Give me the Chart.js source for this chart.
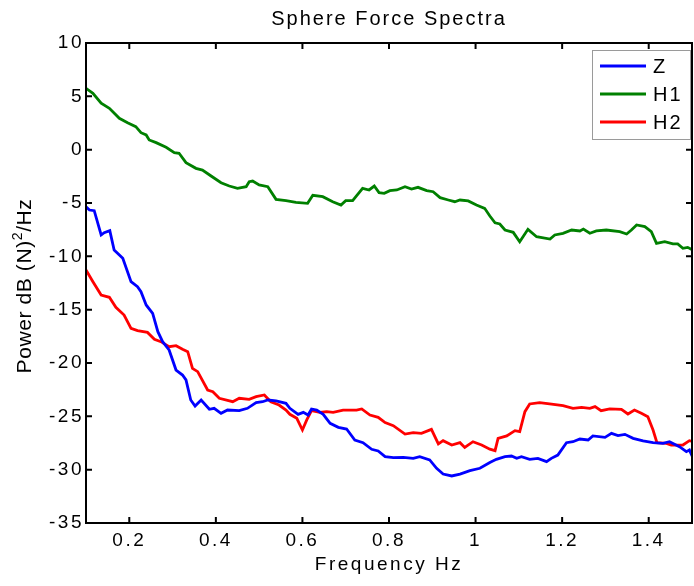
<!DOCTYPE html>
<html>
<head>
<meta charset="utf-8">
<title>Sphere Force Spectra</title>
<script src="https://cdn.jsdelivr.net/npm/chart.js@4.4.0/dist/chart.umd.min.js"></script>
<style>
  html, body { margin: 0; padding: 0; background: #fff; }
  #wrap { width: 694px; height: 586px; }
</style>
</head>
<body>
<div id="wrap"><canvas id="spectra"></canvas></div>
<script>
// spectra in dB, one frequency list per series
const zFreq = [0.100, 0.108, 0.119, 0.135, 0.142, 0.155, 0.165, 0.185, 0.204, 0.219,
  0.227, 0.239, 0.254, 0.266, 0.277, 0.292, 0.308, 0.323, 0.331, 0.342,
  0.352, 0.366, 0.385, 0.396, 0.412, 0.427, 0.454, 0.473, 0.493, 0.508,
  0.520, 0.539, 0.562, 0.571, 0.590, 0.602, 0.613, 0.621, 0.633, 0.648,
  0.664, 0.683, 0.702, 0.721, 0.740, 0.760, 0.775, 0.791, 0.810, 0.833,
  0.856, 0.871, 0.894, 0.910, 0.925, 0.945, 0.964, 0.987, 1.010, 1.033,
  1.048, 1.068, 1.083, 1.095, 1.106, 1.125, 1.144, 1.164, 1.175, 1.190,
  1.210, 1.225, 1.241, 1.260, 1.271, 1.299, 1.314, 1.329, 1.345, 1.364,
  1.387, 1.410, 1.433, 1.448, 1.471, 1.487, 1.494, 1.503];
const zPower = [-5.35, -5.66, -5.72, -8.00, -7.78, -7.59, -9.41, -10.19, -12.38, -12.85,
  -13.31, -14.56, -15.34, -17.06, -18.00, -18.78, -20.66, -21.13, -21.59, -23.47,
  -24.03, -23.47, -24.34, -24.25, -24.72, -24.41, -24.47, -24.25, -23.72, -23.63,
  -23.47, -23.56, -23.78, -24.25, -24.81, -24.63, -24.88, -24.31, -24.41, -24.81,
  -25.66, -26.03, -26.19, -27.22, -27.47, -28.09, -28.25, -28.78, -28.88, -28.84,
  -28.94, -28.78, -29.09, -29.87, -30.41, -30.59, -30.41, -30.09, -29.87, -29.33,
  -29.03, -28.78, -28.72, -28.94, -28.78, -29.03, -28.94, -29.25, -28.94, -28.63,
  -27.47, -27.38, -27.13, -27.22, -26.84, -26.97, -26.60, -26.81, -26.69, -27.06,
  -27.31, -27.47, -27.53, -27.38, -27.84, -28.31, -28.16, -28.94];

const h1Freq = [0.100, 0.116, 0.135, 0.154, 0.177, 0.196, 0.215, 0.227, 0.239, 0.246,
  0.262, 0.285, 0.304, 0.315, 0.331, 0.354, 0.369, 0.389, 0.412, 0.431,
  0.450, 0.470, 0.477, 0.485, 0.500, 0.520, 0.539, 0.562, 0.585, 0.612,
  0.624, 0.647, 0.670, 0.689, 0.700, 0.716, 0.739, 0.754, 0.766, 0.777,
  0.789, 0.802, 0.818, 0.837, 0.852, 0.867, 0.887, 0.902, 0.918, 0.937,
  0.952, 0.964, 0.983, 1.002, 1.021, 1.033, 1.045, 1.056, 1.068, 1.087,
  1.102, 1.121, 1.141, 1.172, 1.183, 1.202, 1.222, 1.241, 1.249, 1.264,
  1.279, 1.302, 1.333, 1.349, 1.360, 1.372, 1.391, 1.406, 1.418, 1.437,
  1.456, 1.467, 1.479, 1.490, 1.502];
const h1Power = [5.75, 5.28, 4.35, 3.88, 2.94, 2.53, 2.16, 1.59, 1.38, 0.91,
  0.66, 0.22, -0.28, -0.34, -1.22, -1.75, -1.91, -2.47, -3.10, -3.41,
  -3.62, -3.47, -3.00, -2.94, -3.31, -3.47, -4.66, -4.78, -4.94, -5.03,
  -4.28, -4.41, -4.88, -5.19, -4.78, -4.78, -3.62, -3.78, -3.41, -4.03,
  -4.09, -3.84, -3.78, -3.47, -3.69, -3.53, -3.84, -3.94, -4.50, -4.72,
  -4.88, -4.72, -4.81, -5.19, -5.50, -6.22, -6.85, -6.97, -7.53, -7.75,
  -8.63, -7.47, -8.16, -8.38, -8.00, -7.84, -7.53, -7.62, -7.44, -7.84,
  -7.62, -7.53, -7.69, -7.91, -7.53, -7.06, -7.22, -7.69, -8.78, -8.63,
  -8.84, -8.84, -9.25, -9.16, -9.41];

const h2Freq = [0.100, 0.116, 0.135, 0.154, 0.169, 0.188, 0.204, 0.219, 0.242, 0.258,
  0.273, 0.292, 0.308, 0.323, 0.335, 0.346, 0.358, 0.381, 0.393, 0.408,
  0.439, 0.454, 0.477, 0.493, 0.512, 0.527, 0.546, 0.562, 0.571, 0.587,
  0.600, 0.610, 0.621, 0.640, 0.656, 0.671, 0.694, 0.725, 0.737, 0.756,
  0.775, 0.791, 0.810, 0.837, 0.856, 0.875, 0.898, 0.914, 0.925, 0.945,
  0.964, 0.975, 0.994, 1.014, 1.033, 1.045, 1.052, 1.072, 1.091, 1.102,
  1.114, 1.125, 1.148, 1.171, 1.202, 1.225, 1.245, 1.264, 1.276, 1.290,
  1.310, 1.337, 1.352, 1.367, 1.383, 1.398, 1.410, 1.419, 1.441, 1.452,
  1.479, 1.494, 1.503];
const h2Power = [-11.28, -12.38, -13.63, -13.84, -14.78, -15.50, -16.75, -16.97, -17.13, -17.78,
  -18.00, -18.47, -18.38, -18.72, -18.94, -20.50, -20.81, -22.53, -22.69, -23.31,
  -23.63, -23.31, -23.41, -23.16, -23.00, -23.63, -23.94, -24.41, -24.81, -25.19,
  -26.28, -25.34, -24.47, -24.62, -24.56, -24.62, -24.41, -24.41, -24.31, -24.88,
  -25.09, -25.59, -25.88, -26.66, -26.53, -26.59, -26.22, -27.59, -27.28, -27.69,
  -27.47, -27.91, -27.38, -27.69, -28.08, -28.22, -27.06, -26.84, -26.34, -26.44,
  -24.56, -23.84, -23.72, -23.84, -24.00, -24.25, -24.16, -24.25, -24.09, -24.47,
  -24.31, -24.34, -24.78, -24.41, -24.72, -25.03, -26.28, -27.47, -27.53, -27.69,
  -27.69, -27.28, -27.38];

const seriesNames = ['Z', 'H1', 'H2'];
const seriesColors = ['#0000ff', '#008000', '#ff0000'];
const xTicks = [0.2, 0.4, 0.6, 0.8, 1.0, 1.2, 1.4];
const yTicks = [-35, -30, -25, -20, -15, -10, -5, 0, 5, 10];
const chartTitle = 'Sphere Force Spectra';
const xTitle = 'Frequency Hz';

const FONT = "'Liberation Sans', Arial, Helvetica, sans-serif";
Chart.defaults.font.family = FONT;
Chart.defaults.color = '#000';

const toPoints = (xs, ys) => xs.map((x, i) => ({ x: x, y: ys[i] }));
const series = [toPoints(zFreq, zPower), toPoints(h1Freq, h1Power), toPoints(h2Freq, h2Power)];

// the old plotting tool spaced its lettering wide
const wideText = {
  id: 'wideText',
  beforeDraw(chart) {
    chart.ctx.letterSpacing = '2.5px';
  }
};

// closed box with ticks pointing inwards on all four sides
const axesBox = {
  id: 'axesBox',
  afterDatasetsDraw(chart) {
    const { ctx, chartArea: a, scales: { x, y } } = chart;
    const len = 6;
    ctx.save();
    ctx.strokeStyle = '#000';
    ctx.lineWidth = 2;
    ctx.strokeRect(a.left, a.top, a.right - a.left, a.bottom - a.top);
    ctx.beginPath();
    xTicks.forEach(v => {
      const px = x.getPixelForValue(v);
      ctx.moveTo(px, a.bottom); ctx.lineTo(px, a.bottom - len);
      ctx.moveTo(px, a.top); ctx.lineTo(px, a.top + len);
    });
    yTicks.forEach(v => {
      const py = y.getPixelForValue(v);
      ctx.moveTo(a.left, py); ctx.lineTo(a.left + len, py);
      ctx.moveTo(a.right, py); ctx.lineTo(a.right - len, py);
    });
    ctx.stroke();
    ctx.restore();
  }
};

// title, axis names and the boxed legend
const annotate = {
  id: 'annotate',
  afterDraw(chart) {
    const { ctx, chartArea: a } = chart;
    const cx = (a.left + a.right) / 2;
    ctx.save();
    ctx.fillStyle = '#000';
    ctx.textAlign = 'center';
    ctx.textBaseline = 'alphabetic';

    ctx.letterSpacing = '2px';
    ctx.font = '20px ' + FONT;
    ctx.fillText(chartTitle, cx, 25);

    ctx.letterSpacing = '2.5px';
    ctx.font = '19px ' + FONT;
    ctx.fillText(xTitle, cx, 570);

    // y label with a raised exponent
    ctx.save();
    ctx.letterSpacing = '0.6px';
    ctx.translate(31, (a.top + a.bottom) / 2 + 3);
    ctx.rotate(-Math.PI / 2);
    ctx.textAlign = 'left';
    const big = '21px ' + FONT, small = '14px ' + FONT;
    ctx.font = big;
    const w1 = ctx.measureText('Power dB (N)').width;
    const w3 = ctx.measureText('/Hz').width;
    ctx.font = small;
    const w2 = ctx.measureText('2').width;
    let pos = -(w1 + w2 + w3) / 2;
    ctx.font = big;
    ctx.fillText('Power dB (N)', pos, 0);
    pos += w1;
    ctx.font = small;
    ctx.fillText('2', pos, -9);
    pos += w2;
    ctx.font = big;
    ctx.fillText('/Hz', pos, 0);
    ctx.restore();

    // legend
    const bw = 98, bh = 89;
    const bx = a.right - 2 - bw, by = a.top + 7;
    ctx.fillStyle = '#fff';
    ctx.fillRect(bx, by, bw, bh);
    ctx.strokeStyle = '#9a9a9a';
    ctx.lineWidth = 1;
    ctx.strokeRect(bx + 0.5, by + 0.5, bw, bh);
    ctx.letterSpacing = '2px';
    ctx.font = '20px ' + FONT;
    ctx.textAlign = 'left';
    ctx.textBaseline = 'middle';
    chart.data.datasets.forEach((ds, i) => {
      const ly = by + 16 + i * 28;
      ctx.strokeStyle = ds.borderColor;
      ctx.lineWidth = 2.8;
      ctx.beginPath();
      ctx.moveTo(bx + 8, ly);
      ctx.lineTo(bx + 54, ly);
      ctx.stroke();
      ctx.fillStyle = '#000';
      ctx.fillText(ds.label, bx + 61, ly + 1);
    });
    ctx.restore();
  }
};

new Chart(document.getElementById('spectra'), {
  type: 'line',
  data: {
    datasets: seriesNames.map((name, i) => ({
      label: name,
      data: series[i],
      borderColor: seriesColors[i],
      borderWidth: 2.8,
      pointRadius: 0,
      tension: 0,
      fill: false
    }))
  },
  options: {
    responsive: true,
    maintainAspectRatio: false,
    animation: false,
    events: [],
    layout: { padding: { top: 43, right: 2, bottom: 0, left: 0 } },
    plugins: {
      legend: { display: false },
      title: { display: false },
      tooltip: { enabled: false }
    },
    scales: {
      x: {
        type: 'linear',
        min: 0.1,
        max: 1.5,
        afterBuildTicks: s => { s.ticks = xTicks.map(v => ({ value: v })); },
        afterFit: s => { s.height = 63; },
        grid: { display: false, drawTicks: false },
        border: { display: false },
        ticks: {
          padding: 6,
          autoSkip: false,
          maxRotation: 0,
          font: { size: 19 },
          callback: v => String(Math.round(v * 10) / 10)
        }
      },
      y: {
        type: 'linear',
        min: -35,
        max: 10,
        afterBuildTicks: s => { s.ticks = yTicks.map(v => ({ value: v })); },
        afterFit: s => { s.width = 86; },
        grid: { display: false, drawTicks: false },
        border: { display: false },
        ticks: { padding: 2, font: { size: 19 } }
      }
    }
  },
  plugins: [wideText, axesBox, annotate]
});
</script>
</body>
</html>
